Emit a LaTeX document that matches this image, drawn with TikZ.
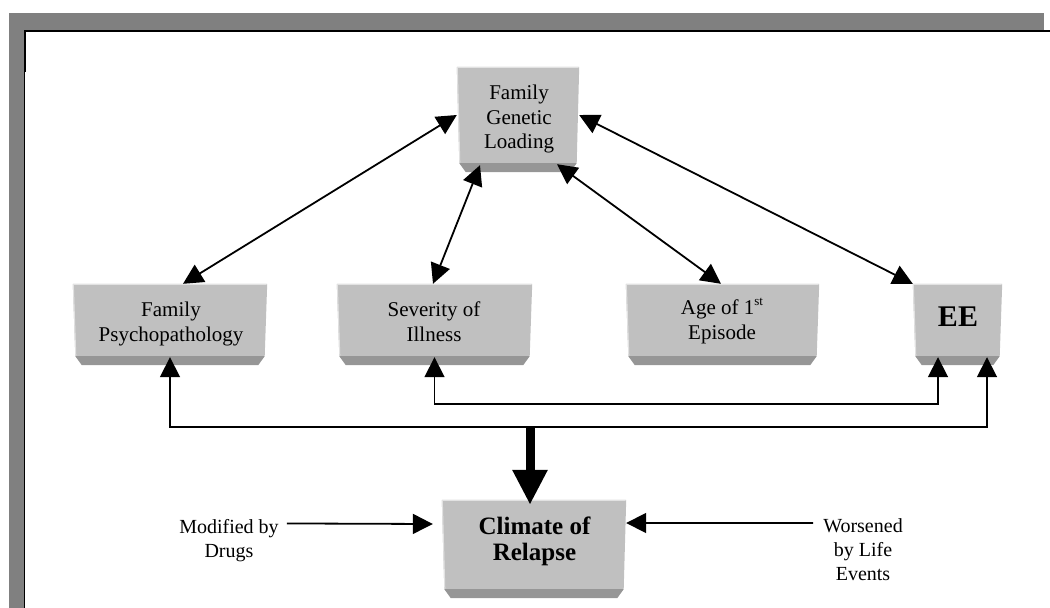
\documentclass[tikz,border=0pt]{standalone}
\usepackage{fontspec}
\setmainfont{Liberation Serif}
\usetikzlibrary{arrows.meta,calc}
\definecolor{facec}{HTML}{C0C0C0}
\definecolor{bevc}{HTML}{969696}
\definecolor{framec}{HTML}{808080}
\definecolor{hilite}{HTML}{E2E2E2}
\tikzset{
  tri/.tip={Triangle[length=20pt,width=20pt]},
  bigtri/.tip={Triangle[length=35pt,width=33pt]},
  boxn/.style={rectangle, draw=none, fill=none, inner sep=0pt},
  lbl/.style={align=center, inner sep=0pt, font=\fontsize{21}{24.5}\selectfont},
  blbl/.style={align=center, inner sep=0pt, font=\bfseries\fontsize{25}{25.5}\selectfont},
  note/.style={align=center, inner sep=0pt, font=\fontsize{20}{24.3}\selectfont},
  conn/.style={line width=1.8pt, black},
  thickconn/.style={line width=9pt, black},
}
\newcommand\drawbevel[1]{%
  \fill[facec] (#1.north west) -- (#1.north east) -- ([xshift=-2.5pt]#1.south east) -- ([xshift=2.5pt]#1.south west) -- cycle;
  \fill[bevc] ([xshift=2.5pt]#1.south west) -- ([xshift=-2.5pt]#1.south east) -- ([xshift=-9pt,yshift=-9pt]#1.south east) -- ([xshift=9pt,yshift=-9pt]#1.south west) -- cycle;
  \draw[hilite, line width=1pt] ([xshift=3pt,yshift=0.5pt]#1.south west) -- ([xshift=0.5pt,yshift=-0.5pt]#1.north west) -- ([xshift=-0.5pt,yshift=-0.5pt]#1.north east);
}
\begin{document}
\begin{tikzpicture}[x=1pt,y=-1pt]
\useasboundingbox (0,0) rectangle (1050,608);
% frame
\fill[framec] (9,13) rectangle (1044,31);
\fill[framec] (9,13) rectangle (24,608);
\draw[line width=2pt] (24,31) -- (1050,31);
\draw[line width=1.3pt] (24.6,31) -- (24.6,608);
\draw[line width=2.4pt] (25,31) -- (25,72);

% box faces (named nodes)
\node[boxn, minimum width=122pt, minimum height=96pt] (fgl) at (518,115) {};
\node[boxn, minimum width=194pt, minimum height=72pt] (fp) at (170,320) {};
\node[boxn, minimum width=195pt, minimum height=72pt] (sev) at (434.5,320) {};
\node[boxn, minimum width=193pt, minimum height=72pt] (age) at (722.5,320) {};
\node[boxn, minimum width=89pt, minimum height=72pt] (ee) at (957.5,320) {};
\node[boxn, minimum width=184pt, minimum height=89pt] (clim) at (534,544.5) {};

\drawbevel{fgl}
\drawbevel{fp}
\drawbevel{sev}
\drawbevel{age}
\drawbevel{ee}
\drawbevel{clim}

% texts
\node[lbl] (fglt) at (519,119) {Family\\Genetic\\Loading};
\node[lbl] (fpt) at (171,324) {Family\\Psychopathology};
\node[lbl] (sevt) at (434,321.5) {Severity of\\Illness};
\node[lbl] (aget) at (722,321) {Age of 1\raisebox{9.5pt}{\fontsize{13}{13}\selectfont st}\\Episode};
\node[align=center, inner sep=0pt, font=\bfseries\fontsize{30}{30}\selectfont] (eet) at (958,317) {EE};
\node[blbl] (climt) at (534.5,541.5) {Climate of\\Relapse};
\node[note] (drugs) at (229,540.5) {Modified by\\Drugs};
\node[note] (wors) at (863,549.5) {Worsened\\by Life\\Events};

% connectors
\draw[conn, tri-tri] (fgl.west) -- ([xshift=13pt]fp.north);
\draw[conn, tri-tri] ([xshift=-38pt,yshift=-2pt]fgl.south) -- ([xshift=-1.5pt]sev.north);
\draw[conn, tri-tri] ([xshift=39pt,yshift=-1pt]fgl.south) -- ([xshift=-1.5pt]age.north);
\draw[conn, tri-tri] (fgl.east) -- (ee.north west);
\draw[conn, tri-tri] ([yshift=-1pt]sev.south) -- ++(0,47) -| ([xshift=-19.5pt,yshift=-1pt]ee.south);
\draw[conn, tri-tri] ([yshift=-1pt]fp.south) -- ++(0,70) -| ([xshift=29.5pt,yshift=-1pt]ee.south);
\coordinate (jn) at (530,427);
\draw[thickconn, -bigtri] (jn) -- ([xshift=-4pt,yshift=-5pt]clim.north);
\draw[conn, -tri] ([xshift=8pt,yshift=-4.5pt]drugs.north east) -- ([xshift=-9pt,yshift=20.5pt]clim.west);
\draw[conn, -tri] ([xshift=-10pt,yshift=-5pt]wors.north west) -- ([yshift=21.5pt]clim.east);
\end{tikzpicture}
\end{document}
